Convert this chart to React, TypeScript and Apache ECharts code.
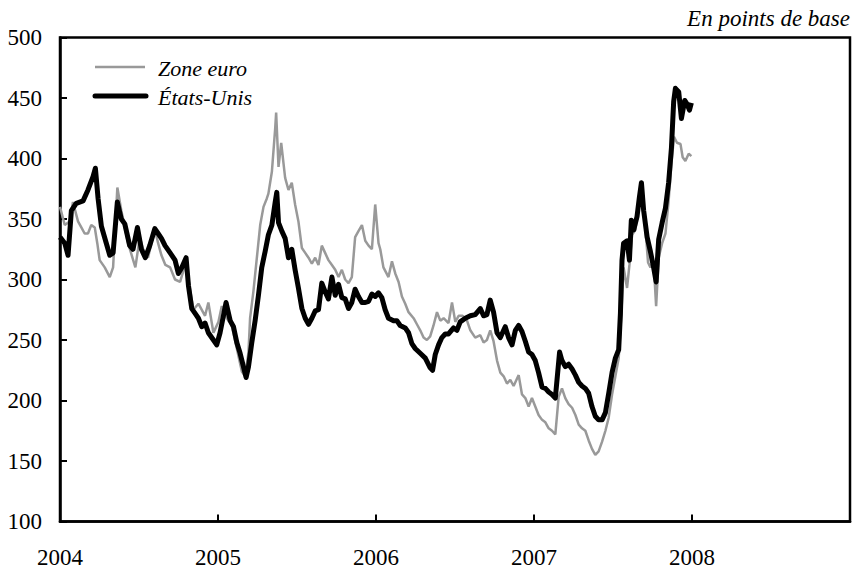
import React, { useEffect, useRef } from "react";
import * as echarts from "echarts";

// États-Unis (black) — decimal years and basis points
const usYears = [
  2004.0, 2004.03, 2004.051, 2004.072, 2004.103, 2004.146, 2004.177, 2004.209, 2004.224, 2004.241,
  2004.262, 2004.293, 2004.315, 2004.336, 2004.363, 2004.388, 2004.41, 2004.441, 2004.462, 2004.49,
  2004.515, 2004.54, 2004.568, 2004.6, 2004.621, 2004.642, 2004.665, 2004.697, 2004.728, 2004.749,
  2004.771, 2004.798, 2004.813, 2004.834, 2004.855, 2004.876, 2004.897, 2004.918, 2004.939, 2004.971,
  2004.992, 2005.013, 2005.051, 2005.077, 2005.098, 2005.119, 2005.14, 2005.161, 2005.178, 2005.193,
  2005.214, 2005.235, 2005.256, 2005.277, 2005.298, 2005.319, 2005.341, 2005.362, 2005.372, 2005.383,
  2005.404, 2005.425, 2005.446, 2005.467, 2005.488, 2005.509, 2005.531, 2005.552, 2005.573, 2005.594,
  2005.615, 2005.636, 2005.657, 2005.678, 2005.699, 2005.721, 2005.742, 2005.763, 2005.784, 2005.805,
  2005.826, 2005.847, 2005.868, 2005.889, 2005.911, 2005.932, 2005.953, 2005.974, 2005.995, 2006.016,
  2006.037, 2006.058, 2006.079, 2006.111, 2006.132, 2006.153, 2006.185, 2006.206, 2006.227, 2006.248,
  2006.28, 2006.312, 2006.343, 2006.358, 2006.375, 2006.396, 2006.417, 2006.438, 2006.459, 2006.491,
  2006.512, 2006.533, 2006.565, 2006.597, 2006.628, 2006.66, 2006.681, 2006.702, 2006.723, 2006.744,
  2006.766, 2006.787, 2006.818, 2006.839, 2006.861, 2006.882, 2006.903, 2006.924, 2006.945, 2006.966,
  2006.987, 2007.008, 2007.029, 2007.051, 2007.072, 2007.093, 2007.114, 2007.135, 2007.162, 2007.177,
  2007.198, 2007.219, 2007.241, 2007.262, 2007.283, 2007.304, 2007.325, 2007.346, 2007.367, 2007.388,
  2007.409, 2007.431, 2007.452, 2007.473, 2007.494, 2007.515, 2007.536, 2007.547, 2007.557, 2007.567,
  2007.589, 2007.604, 2007.616, 2007.631, 2007.652, 2007.667, 2007.68, 2007.694, 2007.716, 2007.737,
  2007.757, 2007.773, 2007.789, 2007.811, 2007.832, 2007.852, 2007.87, 2007.884, 2007.895, 2007.916,
  2007.933, 2007.954, 2007.969, 2007.984, 2007.996,
];
const usValues = [
  335, 330, 320, 357, 363, 365, 374, 385, 392, 367,
  344, 330, 320, 322, 364, 350, 346, 328, 325, 343,
  325, 318, 328, 342, 338, 334, 328, 322, 316, 305,
  310, 318, 295, 276, 272, 268, 261, 264, 256, 250,
  246, 256, 281, 266, 261, 248, 239, 228, 219, 228,
  248, 266, 287, 310, 323, 337, 345, 364, 372, 347,
  340, 334, 318, 325, 308, 293, 276, 268, 263, 268,
  274, 275, 297, 290, 284, 302, 287, 296, 285, 284,
  276, 281, 292, 286, 281, 281, 282, 288, 286, 289,
  285, 275, 268, 266, 266, 262, 260, 256, 247, 243,
  239, 235, 227, 225, 238, 246, 252, 255, 255, 260,
  258, 265, 268, 270, 271, 276, 270, 271, 283, 273,
  256, 252, 261, 252, 246, 258, 262, 257, 249, 240,
  238, 233, 223, 211, 210, 207, 205, 202, 240, 233,
  228, 230, 226, 221, 215, 212, 210, 206, 195, 187,
  184, 184, 190, 206, 223, 235, 242, 272, 316, 330,
  332, 316, 349, 341, 352, 368, 380, 357, 335, 323,
  310, 298, 333, 347, 359, 380, 409, 447, 458, 455,
  433, 448, 445, 440, 446,
];

// Zone euro (grey)
const euroYears = [
  2004.0, 2004.03, 2004.061, 2004.082, 2004.114, 2004.135, 2004.156, 2004.177, 2004.198, 2004.22,
  2004.236, 2004.251, 2004.283, 2004.315, 2004.336, 2004.363, 2004.388, 2004.431, 2004.477, 2004.505,
  2004.526, 2004.557, 2004.6, 2004.621, 2004.642, 2004.667, 2004.697, 2004.728, 2004.76, 2004.792,
  2004.813, 2004.844, 2004.876, 2004.918, 2004.939, 2004.971, 2005.003, 2005.024, 2005.056, 2005.087,
  2005.119, 2005.151, 2005.172, 2005.193, 2005.203, 2005.224, 2005.246, 2005.267, 2005.288, 2005.309,
  2005.319, 2005.341, 2005.362, 2005.368, 2005.383, 2005.4, 2005.425, 2005.446, 2005.467, 2005.488,
  2005.509, 2005.531, 2005.552, 2005.573, 2005.594, 2005.615, 2005.636, 2005.657, 2005.678, 2005.699,
  2005.721, 2005.742, 2005.763, 2005.784, 2005.805, 2005.826, 2005.847, 2005.868, 2005.889, 2005.911,
  2005.932, 2005.953, 2005.974, 2005.995, 2006.016, 2006.027, 2006.047, 2006.079, 2006.101, 2006.122,
  2006.143, 2006.164, 2006.185, 2006.206, 2006.238, 2006.259, 2006.28, 2006.301, 2006.322, 2006.343,
  2006.364, 2006.386, 2006.407, 2006.428, 2006.459, 2006.481, 2006.502, 2006.523, 2006.548, 2006.576,
  2006.597, 2006.628, 2006.66, 2006.681, 2006.702, 2006.723, 2006.744, 2006.766, 2006.787, 2006.808,
  2006.829, 2006.85, 2006.871, 2006.903, 2006.924, 2006.945, 2006.966, 2006.987, 2007.008, 2007.029,
  2007.051, 2007.072, 2007.093, 2007.114, 2007.135, 2007.156, 2007.177, 2007.198, 2007.219, 2007.241,
  2007.262, 2007.283, 2007.304, 2007.325, 2007.346, 2007.367, 2007.388, 2007.409, 2007.431, 2007.452,
  2007.473, 2007.494, 2007.515, 2007.536, 2007.553, 2007.567, 2007.589, 2007.604, 2007.621, 2007.642,
  2007.662, 2007.68, 2007.7, 2007.722, 2007.737, 2007.757, 2007.773, 2007.789, 2007.811, 2007.832,
  2007.852, 2007.87, 2007.886, 2007.905, 2007.927, 2007.941, 2007.958, 2007.979, 2007.996,
];
const euroValues = [
  360, 345, 348, 364, 348, 343, 338, 338, 345, 343,
  330, 316, 310, 302, 310, 376, 357, 330, 310, 335,
  325, 318, 342, 330, 320, 312, 310, 300, 298, 312,
  300, 275, 280, 270, 281, 256, 265, 278, 268, 262,
  243, 224, 220, 240, 268, 290, 318, 345, 360, 367,
  371, 389, 425, 438, 393, 413, 384, 374, 380, 362,
  348, 326, 322, 318, 313, 318, 312, 328, 322, 316,
  312, 308, 302, 308, 300, 297, 302, 335, 340, 345,
  332, 328, 325, 362, 330, 325, 310, 302, 315, 305,
  298, 286, 280, 273, 268, 263, 258, 252, 250, 253,
  262, 273, 266, 268, 264, 281, 265, 270, 270, 266,
  258, 252, 254, 248, 250, 258, 249, 233, 223, 220,
  214, 217, 212, 221, 205, 202, 195, 202, 195, 188,
  184, 182, 177, 175, 172, 203, 210, 202, 197, 194,
  188, 180, 177, 175, 167, 160, 155, 158, 166, 175,
  186, 205, 220, 235, 272, 310, 293, 312, 337, 341,
  363, 372, 350, 314, 310, 315, 278, 318, 330, 338,
  365, 396, 418, 413, 412, 401, 398, 404, 402,
];

const yearLabels = [2004, 2005, 2006, 2007, 2008];

const FONT = '"Liberation Serif", "Times New Roman", serif';

export default function App() {
  const ref = useRef<HTMLDivElement>(null);

  useEffect(() => {
    if (!ref.current) return;
    const chart = echarts.init(ref.current, null, { renderer: "svg" });
    const usData = usYears.map((y, i) => [y, usValues[i]]);
    const euroData = euroYears.map((y, i) => [y, euroValues[i]]);

    chart.setOption({
      animation: false,
      backgroundColor: "#ffffff",
      grid: {
        left: 60,
        right: 6,
        top: 37.5,
        bottom: 47.5,
        show: true,
        borderColor: "#000000",
        borderWidth: 2.5,
        backgroundColor: "transparent",
      },
      xAxis: {
        type: "value",
        min: 2004,
        max: 2009,
        interval: 1,
        axisLine: { show: true, lineStyle: { color: "#000", width: 2.5 } },
        axisTick: { show: true, inside: true, length: 7, lineStyle: { color: "#000", width: 2 } },
        splitLine: { show: false },
        axisLabel: {
          margin: 24,
          color: "#000",
          fontFamily: FONT,
          fontSize: 23,
          formatter: (v: number) => (yearLabels.includes(v) ? String(v) : ""),
        },
      },
      yAxis: {
        type: "value",
        min: 100,
        max: 500,
        interval: 50,
        axisLine: { show: true, lineStyle: { color: "#000", width: 2.5 } },
        axisTick: { show: true, inside: true, length: 7, lineStyle: { color: "#000", width: 2 } },
        splitLine: { show: false },
        axisLabel: {
          margin: 18,
          color: "#000",
          fontFamily: FONT,
          fontSize: 23,
        },
      },
      series: [
        {
          name: "Zone euro",
          type: "line",
          data: euroData,
          showSymbol: false,
          lineStyle: { color: "#999999", width: 2.5 },
          z: 2,
        },
        {
          name: "États-Unis",
          type: "line",
          data: usData,
          showSymbol: false,
          lineStyle: { color: "#000000", width: 5, join: "round" },
          z: 3,
        },
      ],
      graphic: [
        {
          type: "text",
          right: 6,
          top: 7,
          style: {
            text: "En points de base",
            font: `italic 23px ${FONT}`,
            fill: "#000",
          },
        },
        {
          type: "line",
          shape: { x1: 95, y1: 67, x2: 145, y2: 67 },
          style: { stroke: "#999999", lineWidth: 2.5 },
        },
        {
          type: "line",
          shape: { x1: 95, y1: 96, x2: 146, y2: 96 },
          style: { stroke: "#000000", lineWidth: 5, lineCap: "round" },
        },
        {
          type: "text",
          x: 158,
          y: 68,
          style: {
            text: "Zone euro",
            font: `italic 22px ${FONT}`,
            fill: "#000",
            verticalAlign: "middle",
          },
        },
        {
          type: "text",
          x: 158,
          y: 97,
          style: {
            text: "États-Unis",
            font: `italic 22px ${FONT}`,
            fill: "#000",
            verticalAlign: "middle",
          },
        },
      ],
    });

    return () => chart.dispose();
  }, []);

  return (
    <div
      ref={ref}
      style={{ position: "fixed", left: 0, top: 0, width: 856, height: 569 }}
    />
  );
}
